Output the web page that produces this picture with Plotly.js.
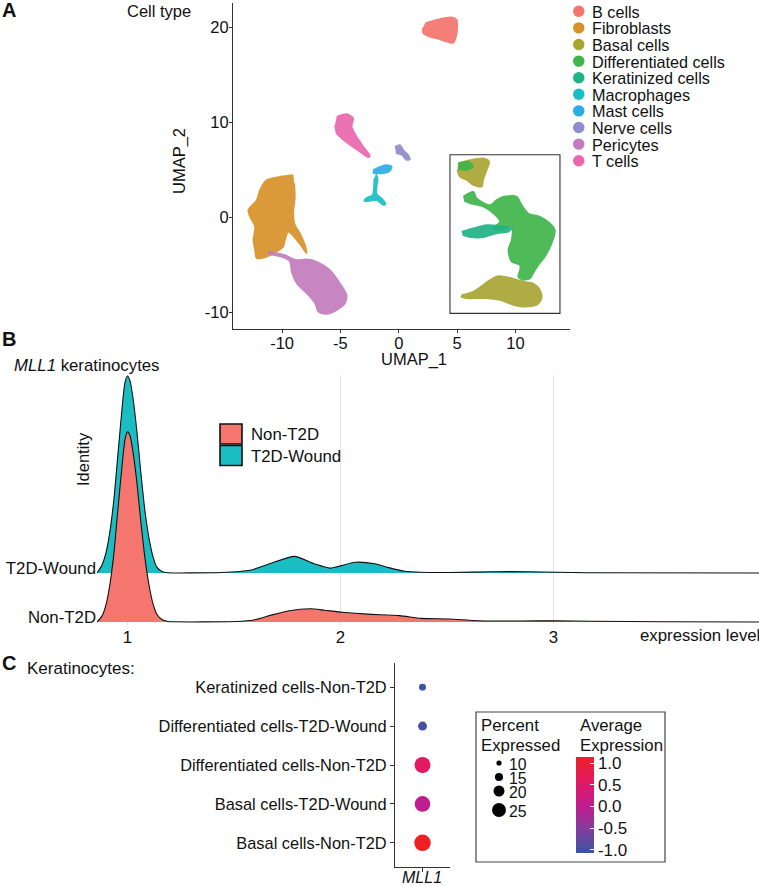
<!DOCTYPE html>
<html>
<head>
<meta charset="utf-8">
<script src="https://cdn.plot.ly/plotly-3.0.1.min.js"></script>
<style>
  html, body { margin: 0; padding: 0; background: #fff; }
  #fig { width: 759px; height: 886px; }
</style>
</head>
<body>
<div id="fig"></div>
<script>
// ---- Panel A: UMAP cluster outlines (UMAP_1 / UMAP_2 units)
const cellTypes = ['B cells', 'Fibroblasts', 'Basal cells', 'Differentiated cells', 'Keratinized cells',
                   'Macrophages', 'Mast cells', 'Nerve cells', 'Pericytes', 'T cells'];
const cellColors = ['#F3756D', '#D8922A', '#A8A633', '#3FB54A', '#20B383',
                    '#17BEC4', '#2BADE6', '#8E8DCA', '#C37BBD', '#EA67AD'];

const bCellsX = [2.25, 2.96, 3.82, 4.54, 4.97, 5.02, 4.91, 4.68, 4.11, 3.53, 2.67, 2.10, 2.04];
const bCellsY = [20.41, 20.69, 20.95, 21.05, 20.77, 19.89, 19.01, 18.37, 18.48, 18.73, 19.01, 19.37, 19.89];
const fibroX = [-9.04, -10.18, -11.32, -11.90, -12.18, -12.90, -12.76, -12.33, -12.47, -12.33, -12.18, -11.32, -10.47,
                -9.90, -9.75, -9.47, -8.75, -8.32, -7.90, -8.04, -8.47, -8.90, -9.04, -8.90, -8.96];
const fibroY = [4.45, 4.27, 3.93, 2.87, 1.82, 0.77, 0.06, -0.99, -2.39, -3.44, -4.32, -4.15, -3.62,
                -3.09, -2.39, -1.52, -2.39, -3.09, -3.79, -2.92, -1.68, -0.81, 0.42, 2.17, 3.58];
const basalX = [5.10, 6.10, 7.24, 7.76, 7.54, 7.24, 7.11, 6.39, 5.82, 5.25, 5.02, null,
                5.39, 6.39, 7.82, 8.53, 9.68, 10.67, 11.53, 12.10, 12.25, 11.82, 10.67, 9.82, 8.68, 7.24, 5.82, 5.31];
const basalY = [5.68, 6.03, 6.21, 5.85, 4.98, 3.93, 3.22, 3.40, 3.93, 4.27, 4.98, null,
                -8.18, -7.83, -6.60, -6.18, -6.42, -6.78, -6.95, -7.65, -8.53, -9.23, -9.41, -9.23, -8.71, -8.53, -8.53, -8.36];
const diffX = [5.53, 6.39, 6.68, 7.82, 8.39, 8.96, 10.11, 10.54, 11.10, 12.10, 12.96, 13.39, 13.11, 12.53, 11.96, 11.53,
               11.25, 10.67, 10.24, 10.39, 10.39, 9.68, 9.39, 9.68, 9.68, 8.68, 8.10, 8.68, 8.10, 7.24, 6.10, 5.59, null,
               5.10, 5.96, 6.39, 5.82, 5.10];
const diffY = [2.17, 2.69, 2.00, 1.29, 1.82, 2.17, 2.17, 1.29, 0.42, 0.06, -0.63, -1.34, -2.74, -4.15, -5.02, -5.89,
               -6.42, -6.60, -6.25, -5.55, -5.02, -4.67, -3.44, -2.39, -0.99, -1.34, -1.16, -0.46, 0.42, 1.12, 1.47, 1.75, null,
               5.68, 5.85, 5.33, 4.98, 5.05];
const keratX = [5.39, 6.39, 7.54, 8.68, 9.68, 9.39, 8.39, 7.24, 6.25, 5.48];
const keratY = [-1.52, -1.16, -0.81, -0.92, -1.16, -1.52, -1.68, -2.11, -2.11, -1.86];
const macroX = [-1.95, -1.81, -1.89, -1.89, -1.47, -1.12, -1.33, -1.89, -2.47, -2.96, -2.75, -2.24, -2.13, -2.10];
const macroY = [4.56, 4.11, 3.22, 2.45, 2.00, 1.40, 1.29, 1.82, 1.72, 1.72, 2.06, 2.35, 3.22, 4.11];
const mastX = [-2.19, -1.61, -1.04, -0.61, -0.75, -1.33, -1.89, -2.24];
const mastY = [4.98, 5.33, 5.51, 5.33, 4.91, 4.63, 4.63, 4.69];
const nerveX = [-0.33, 0.10, 0.39, 0.81, 0.96, 0.68, 0.25, -0.24];
const nerveY = [7.43, 7.61, 7.08, 6.56, 6.10, 6.03, 6.56, 6.74];
const periX = [-11.19, -9.76, -9.47, -8.75, -7.90, -7.04, -5.90, -5.04, -4.47, -4.61, -5.32, -6.18, -6.90, -7.18,
               -7.90, -8.75, -9.18, -9.33, -9.90, -10.76, -11.19];
const periY = [-3.62, -3.97, -4.15, -4.49, -4.42, -4.67, -5.55, -6.95, -8.18, -9.05, -9.76, -10.18, -9.94, -9.05,
               -8.00, -6.95, -5.73, -4.67, -4.21, -3.97, -3.86];
const tcellX = [-5.32, -4.47, -3.90, -4.04, -3.61, -3.04, -2.47, -2.61, -3.33, -4.18, -4.89, -5.32, -5.47];
const tcellY = [10.59, 10.87, 10.42, 9.54, 8.48, 7.43, 6.45, 6.32, 6.91, 7.61, 8.31, 8.84, 9.72];

const clusterX = [bCellsX, fibroX, basalX, diffX, keratX, macroX, mastX, nerveX, periX, tcellX];
const clusterY = [bCellsY, fibroY, basalY, diffY, keratY, macroY, mastY, nerveY, periY, tcellY];
const umapXTicks = [-10, -5, 0, 5, 10];
const umapYTicks = [-10, 0, 10, 20];

// ---- Panel B: MLL1 expression density per identity (height in row units)
const identities = ['Non-T2D', 'T2D-Wound'];
const identityColors = ['#F4766E', '#1ABDC2'];
const nonX = [0.857, 0.880, 0.899, 0.918, 0.937, 0.955, 0.974, 0.988, 1.000, 1.012, 1.026, 1.045, 1.063, 1.082, 1.101,
              1.120, 1.138, 1.162, 1.190, 1.223, 1.35, 1.508, 1.592, 1.675, 1.759, 1.859, 1.926, 2.010, 2.127, 2.277,
              2.378, 2.512, 2.646, 2.847, 2.998, 3.182, 3.516, 3.965];
const nonDens = [0, 0.12, 0.35, 0.78, 1.43, 2.29, 3.16, 3.71, 3.88, 3.80, 3.47, 2.82, 2.04, 1.31, 0.76,
                 0.37, 0.16, 0.05, 0.012, 0.004, 0.002, 0.01, 0.04, 0.14, 0.23, 0.27, 0.24, 0.20, 0.16, 0.13,
                 0.075, 0.06, 0.027, 0.02, 0.027, 0.014, 0.006, 0];
const t2dX = [0.857, 0.880, 0.899, 0.918, 0.937, 0.955, 0.974, 0.988, 1.000, 1.012, 1.026, 1.045, 1.063, 1.082, 1.101,
              1.120, 1.138, 1.162, 1.190, 1.30, 1.441, 1.575, 1.675, 1.784, 1.876, 1.951, 2.069, 2.161, 2.227, 2.303,
              2.378, 2.512, 2.713, 2.880, 3.014, 3.148, 3.965];
const t2dDens = [0, 0.16, 0.41, 0.86, 1.53, 2.41, 3.33, 3.88, 4.02, 3.92, 3.57, 2.86, 2.04, 1.27, 0.71,
                 0.33, 0.12, 0.03, 0.006, 0.002, 0.01, 0.055, 0.20, 0.34, 0.19, 0.10, 0.22, 0.19, 0.11, 0.035,
                 0.014, 0.01, 0.027, 0.027, 0.014, 0.006, 0];
const densX = [nonX, t2dX];
const densY = [nonDens, t2dDens];
const exprTicks = [1, 2, 3];

// ---- Panel C: dot plot (bottom to top)
const dotGroups = ['Basal cells-Non-T2D', 'Basal cells-T2D-Wound', 'Differentiated cells-Non-T2D',
                   'Differentiated cells-T2D-Wound', 'Keratinized cells-Non-T2D'];
const dotGene = 'MLL1';
const pctExpressed = [29.5, 28, 28.5, 16.5, 13];
const avgExpression = [1.14, 0.02, 0.62, -0.98, -1.07];
const pctBreaks = [10, 15, 20, 25];
const avgTicks = [-1, -0.5, 0, 0.5, 1];

// ---- helpers
const W = 759, H = 886;
const FONT = 'Liberation Sans, Arial, Helvetica, sans-serif';
const px = x => x / W;
const py = y => 1 - y / H;
const dotSize = p => 0.58 * p - 0.6;   // percent -> marker diameter (px)
const expColorscale = [[0, '#3A54A5'], [0.25, '#843C9B'], [0.5, '#C21C8E'], [0.75, '#E21A62'], [1, '#EE2025']];
const fmtTick = v => String(v);        // plain hyphen minus, as in the figure

const traces = [];

// A: clusters (dense point clouds drawn as filled outlines)
clusterX.forEach((xs, i) => {
  traces.push({
    type: 'scatter', mode: 'lines', x: xs, y: clusterY[i], xaxis: 'x', yaxis: 'y',
    fill: 'toself', fillcolor: cellColors[i], opacity: 0.92,
    line: { color: cellColors[i], width: 1.5, shape: 'spline', smoothing: 0.8 },
    name: cellTypes[i], hoverinfo: 'name'
  });
});

// B: ridges, T2D-Wound drawn first (behind)
[1, 0].forEach(k => {
  const ys = densY[k].map(d => k + d);
  traces.push({
    type: 'scatter', mode: 'lines', x: densX[k], y: ys, xaxis: 'x2', yaxis: 'y2',
    fill: 'toself', fillcolor: identityColors[k],
    line: { width: 0, shape: 'spline', smoothing: 0.6 }, hoverinfo: 'skip'
  });
  traces.push({
    type: 'scatter', mode: 'lines', x: densX[k], y: ys, xaxis: 'x2', yaxis: 'y2',
    line: { color: '#111', width: 1.1, shape: 'spline', smoothing: 0.6 }, name: identities[k]
  });
});

// C: dot plot
traces.push({
  type: 'scatter', mode: 'markers', x: dotGroups.map(() => dotGene), y: dotGroups,
  xaxis: 'x3', yaxis: 'y3',
  marker: {
    size: pctExpressed.map(dotSize), color: avgExpression, colorscale: expColorscale,
    cmin: -1.07, cmax: 1.14, opacity: 1, line: { width: 0 }, showscale: true,
    colorbar: {
      x: px(576), xanchor: 'left', y: py(805), yanchor: 'middle',
      len: 96, lenmode: 'pixels', thickness: 18, thicknessmode: 'pixels',
      xpad: 0, ypad: 0, outlinewidth: 0,
      tickvals: avgTicks, ticktext: avgTicks.map(v => v.toFixed(1)),
      ticks: 'inside', ticklen: 4, tickcolor: '#fff',
      tickfont: { family: FONT, size: 17, color: '#111' }
    }
  }
});

const axisLine = { showline: true, linecolor: '#333', linewidth: 1.1, ticks: 'outside', ticklen: 3,
                   tickcolor: '#333', showgrid: false, zeroline: false };

const shapes = [];
const annotations = [];
const ann = (text, x, y, size, opts) => annotations.push(Object.assign({
  text: text, x: px(x), y: py(y), xref: 'paper', yref: 'paper', showarrow: false,
  xanchor: 'left', yanchor: 'middle', font: { family: FONT, size: size, color: '#111' }
}, opts || {}));

// inset box around keratinocytes in A
shapes.push({ type: 'rect', xref: 'x', yref: 'y', x0: 4.39, x1: 13.82, y0: -10.11, y1: 6.59,
              line: { color: '#333', width: 1.1 } });

// A legend
ann('Cell type', 125, 11, 16.5);
cellTypes.forEach((name, i) => {
  const cy = 11.3 + i * 16.6;
  shapes.push({ type: 'circle', xref: 'paper', yref: 'paper', x0: px(573), x1: px(584.5),
                y0: py(cy + 5.7), y1: py(cy - 5.7), fillcolor: cellColors[i], line: { width: 0 } });
  ann(name, 590, cy + 0.5, 16.2);
});

ann('<b>A</b>', 0, 10, 20);
ann('UMAP_2', 180, 161, 16.5, { xanchor: 'center', textangle: -90 });
ann('UMAP_1', 414, 359, 16.5, { xanchor: 'center' });

// B labels and legend
ann('<b>B</b>', 0, 339, 20);
ann('<i>MLL1</i> keratinocytes', 12, 365, 16.8);
ann('Identity', 83, 459, 16.5, { xanchor: 'center', textangle: -90 });
ann('expression level', 638, 635, 16.8);
identities.forEach((name, k) => {
  const top = 424 + k * 21.5;
  shapes.push({ type: 'rect', xref: 'paper', yref: 'paper', x0: px(220), x1: px(242),
                y0: py(top + 20), y1: py(top), fillcolor: identityColors[k], line: { color: '#111', width: 1.6 } });
  ann(name, 249, top + 10.5, 16.8);
});

// C labels and legend
ann('<b>C</b>', 0, 663, 20);
ann('Keratinocytes:', 25, 668, 17);
ann('<i>' + dotGene + '</i>', 422, 877, 16, { xanchor: 'center' });
shapes.push({ type: 'rect', xref: 'paper', yref: 'paper', x0: px(476), x1: px(665), y0: py(862), y1: py(712),
              line: { color: '#444', width: 1.2 } });
ann('Percent', 479, 725, 16.8);
ann('Expressed', 479, 745, 16.8);
ann('Average', 578, 725, 16.8);
ann('Expression', 578, 745, 16.8);
const breakY = [763, 777, 791, 810];
pctBreaks.forEach((p, i) => {
  const r = dotSize(p) / 2;
  shapes.push({ type: 'circle', xref: 'paper', yref: 'paper', x0: px(499 - r), x1: px(499 + r),
                y0: py(breakY[i] + r), y1: py(breakY[i] - r), fillcolor: '#000', line: { width: 0 } });
  ann(String(p), 507, breakY[i] + 1, 15.8);
});

const layout = {
  width: W, height: H, margin: { l: 0, r: 0, t: 0, b: 0 },
  paper_bgcolor: '#fff', plot_bgcolor: 'rgba(0,0,0,0)', showlegend: false,
  font: { family: FONT, color: '#111' },
  xaxis: Object.assign({}, axisLine, { domain: [px(233), px(570)], anchor: 'y', range: [-14.21, 14.68],
          tickvals: umapXTicks, ticktext: umapXTicks.map(fmtTick), ticklabelstandoff: -4,
          tickfont: { size: 16.5, color: '#111' } }),
  yaxis: Object.assign({}, axisLine, { domain: [py(329), py(3)], anchor: 'x', range: [-11.76, 22.56],
          tickvals: umapYTicks, ticktext: umapYTicks.map(fmtTick), ticklabelstandoff: -3,
          tickfont: { size: 16.5, color: '#111' } }),
  xaxis2: { domain: [px(97), 1], anchor: 'y2', range: [0.857, 3.965], tickvals: exprTicks,
            showline: false, ticks: '', showgrid: true, gridcolor: '#e3e3e3', gridwidth: 1, zeroline: false,
            tickfont: { size: 16.8, color: '#111' } },
  yaxis2: { domain: [py(625), py(375)], anchor: 'x2', range: [-0.061, 5.04],
            tickvals: identities.map((_, k) => k + 0.11), ticktext: identities,
            showline: false, ticks: '', showgrid: false, zeroline: false,
            tickfont: { size: 16.8, color: '#111' } },
  xaxis3: Object.assign({}, axisLine, { domain: [px(395), px(450)], anchor: 'y3', type: 'category',
          range: [-0.5, 0.5], ticklen: 4, showticklabels: false }),
  yaxis3: Object.assign({}, axisLine, { domain: [py(867), py(663)], anchor: 'x3', type: 'category',
          categoryorder: 'array', categoryarray: dotGroups, range: [-0.62, 4.62], ticklen: 4,
          tickfont: { size: 16.4, color: '#111' } }),
  shapes: shapes,
  annotations: annotations
};

Plotly.newPlot('fig', traces, layout, { displayModeBar: false, staticPlot: true });
</script>
</body>
</html>
